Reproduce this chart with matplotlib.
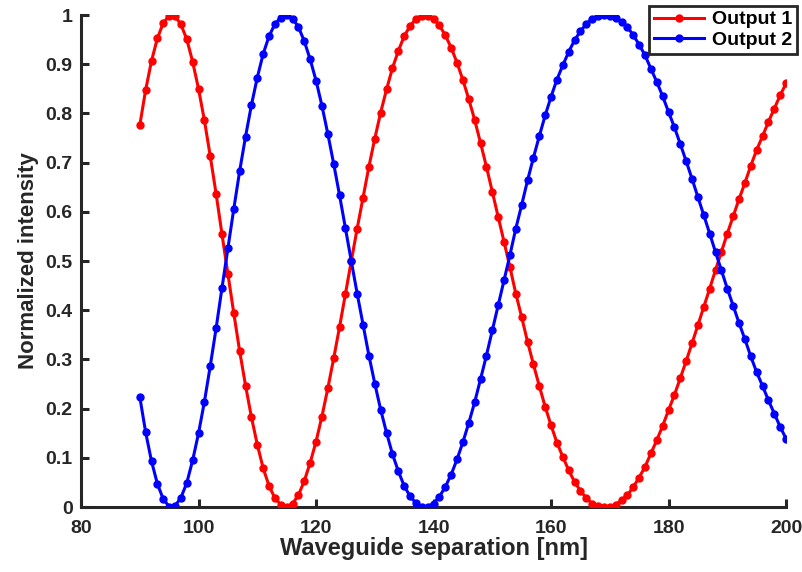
import matplotlib
matplotlib.use("Agg")
import matplotlib.pyplot as plt
from matplotlib.ticker import FuncFormatter, MultipleLocator

plt.rcParams['font.family'] = ['Liberation Sans', 'DejaVu Sans']
plt.rcParams['font.weight'] = 'bold'

# Waveguide separation [nm]
separation = list(range(90, 201))

# Normalized intensity at output 1
output1 = [
    0.776, 0.848, 0.907, 0.953, 0.984, 0.999, 0.998, 0.981, 0.951, 0.905,
    0.850, 0.786, 0.713, 0.636, 0.554, 0.474, 0.394, 0.317, 0.247, 0.183,
    0.127, 0.079, 0.043, 0.018, 0.005, 0.000, 0.007, 0.024, 0.053, 0.090,
    0.133, 0.184, 0.241, 0.302, 0.366, 0.433, 0.500, 0.566, 0.629, 0.692,
    0.749, 0.802, 0.849, 0.892, 0.927, 0.957, 0.978, 0.992, 0.999, 0.999,
    0.993, 0.979, 0.959, 0.934, 0.903, 0.868, 0.829, 0.787, 0.740, 0.692,
    0.641, 0.590, 0.539, 0.488, 0.434, 0.386, 0.336, 0.290, 0.246, 0.204,
    0.166, 0.131, 0.102, 0.075, 0.051, 0.033, 0.018, 0.007, 0.002, 0.000,
    0.001, 0.005, 0.014, 0.024, 0.041, 0.060, 0.082, 0.109, 0.136, 0.165,
    0.197, 0.228, 0.262, 0.297, 0.333, 0.370, 0.407, 0.444, 0.482, 0.519,
    0.556, 0.591, 0.626, 0.659, 0.694, 0.726, 0.754, 0.783, 0.810, 0.837,
    0.861,
]

# Normalized intensity at output 2
output2 = [
    0.224, 0.152, 0.093, 0.047, 0.016, 0.001, 0.002, 0.019, 0.049, 0.095,
    0.150, 0.214, 0.287, 0.364, 0.446, 0.526, 0.606, 0.683, 0.753, 0.817,
    0.873, 0.921, 0.957, 0.982, 0.995, 1.000, 0.993, 0.976, 0.947, 0.910,
    0.867, 0.816, 0.759, 0.698, 0.634, 0.567, 0.500, 0.434, 0.371, 0.308,
    0.251, 0.198, 0.151, 0.108, 0.073, 0.043, 0.022, 0.008, 0.001, 0.001,
    0.007, 0.021, 0.041, 0.066, 0.097, 0.132, 0.171, 0.213, 0.260, 0.308,
    0.359, 0.410, 0.461, 0.512, 0.566, 0.614, 0.664, 0.710, 0.754, 0.796,
    0.834, 0.869, 0.898, 0.925, 0.949, 0.967, 0.982, 0.993, 0.998, 1.000,
    0.999, 0.995, 0.986, 0.976, 0.959, 0.940, 0.918, 0.891, 0.864, 0.835,
    0.803, 0.772, 0.738, 0.703, 0.667, 0.630, 0.593, 0.556, 0.518, 0.481,
    0.444, 0.409, 0.374, 0.341, 0.306, 0.274, 0.246, 0.217, 0.190, 0.163,
    0.139,
]

series_labels = ["Output 1", "Output 2"]
x_ticks = [80, 100, 120, 140, 160, 180, 200]

fig = plt.figure(figsize=(8.03, 5.72), dpi=100)
ax = fig.add_axes([0.1009, 0.1136, 0.878, 0.860])

ax.plot(separation, output1, color=(1, 0, 0), lw=2.2, marker='o', ms=5,
        label=series_labels[0], zorder=3)
ax.plot(separation, output2, color=(0, 0, 1), lw=2.2, marker='o', ms=5,
        label=series_labels[1], zorder=4)

ax.set_xlim(80, 200)
ax.set_ylim(0, 1)
ax.set_xticks(x_ticks)
ax.yaxis.set_major_locator(MultipleLocator(0.1))
ax.yaxis.set_major_formatter(FuncFormatter(lambda v, p: f"{v:g}"))

dark = '#262626'
for side in ('top', 'right'):
    ax.spines[side].set_visible(False)
for side in ('left', 'bottom'):
    ax.spines[side].set_linewidth(2.2)
    ax.spines[side].set_color(dark)
ax.tick_params(direction='in', length=6, width=2.2, colors=dark,
               labelsize=14)
ax.tick_params(axis='x', pad=9)
ax.tick_params(axis='y', pad=6)
for lbl in ax.get_xticklabels() + ax.get_yticklabels():
    lbl.set_fontweight('bold')

ax.set_xlabel("Waveguide separation [nm]", fontsize=17, fontweight='bold',
              color=dark, labelpad=0)
ax.set_ylabel("Normalized intensity", fontsize=16, fontweight='bold',
              color=dark, labelpad=5)

leg = ax.legend(loc='upper right', bbox_to_anchor=(0.9925, 0.9895),
                bbox_transform=fig.transFigure, borderaxespad=0,
                fancybox=False, framealpha=1, edgecolor=dark,
                prop={'size': 14, 'weight': 'bold'}, handlelength=2.6,
                handletextpad=0.4, borderpad=0.25, labelspacing=0.15)
leg.get_frame().set_linewidth(2)

fig.savefig("out.png", dpi=100)
